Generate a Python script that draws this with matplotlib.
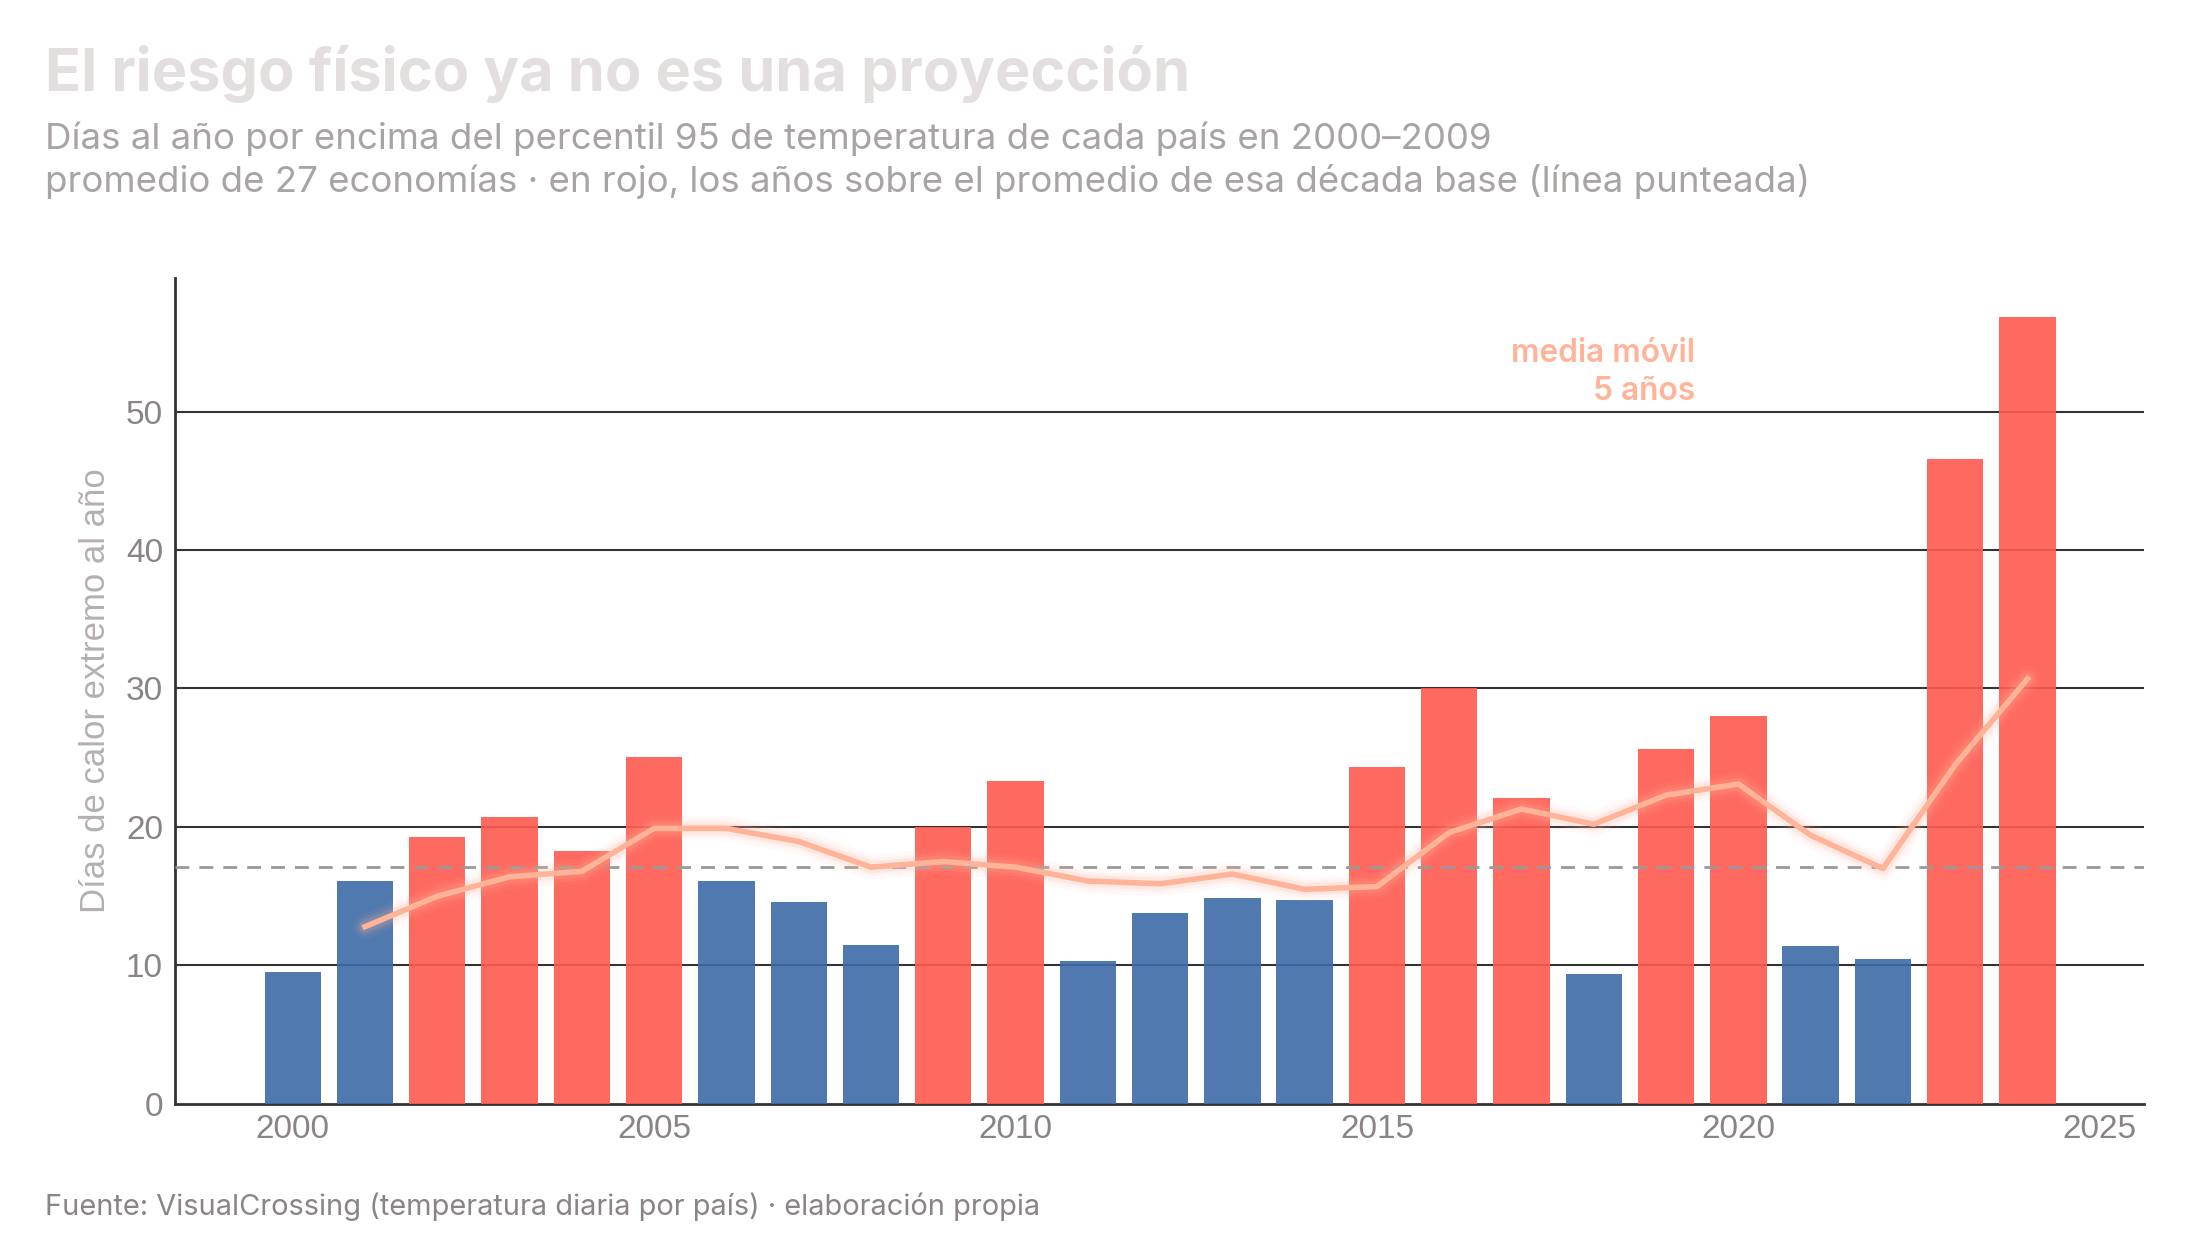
import matplotlib
matplotlib.use("Agg")
import matplotlib.pyplot as plt

years = list(range(2000, 2025))
hot_days = [9.5, 16.1, 19.3, 20.7, 18.3, 25.05, 16.1, 14.6, 11.5, 20.0,
            23.3, 10.3, 13.8, 14.9, 14.7, 24.3, 30.0, 22.1, 9.4, 25.6,
            28.0, 11.4, 10.5, 46.6, 56.8]
rolling_years = list(range(2001, 2025))
rolling_mean = [12.8, 15.0, 16.4, 16.8, 19.9, 19.9, 18.95, 17.1, 17.5, 17.1,
                16.1, 15.9, 16.6, 15.5, 15.7, 19.6, 21.3, 20.2, 22.3, 23.1,
                19.4, 17.0, 24.5, 30.7]
base_mean = 17.1
x_ticks = [2000, 2005, 2010, 2015, 2020, 2025]
y_ticks = [0, 10, 20, 30, 40, 50]

title = "El riesgo físico ya no es una proyección"
subtitle = ("Días al año por encima del percentil 95 de temperatura de cada país en 2000–2009\n"
            "promedio de 27 economías · en rojo, los años sobre el promedio de esa década base (línea punteada)")
source = "Fuente: VisualCrossing (temperatura diaria por país) · elaboración propia"

RED = "#ff5a4f"
BLUE = "#3d6aa8"
LINE = "#ffb499"
GRAY_TXT = "#8a8584"

plt.rcParams["font.family"] = ["Inter", "DejaVu Sans"]

fig = plt.figure(figsize=(11, 6.2), dpi=200)
ax = fig.add_axes([0.0795, 0.1097, 0.895, 0.6661])

colors = [RED if v > base_mean else BLUE for v in hot_days]
ax.bar(years, hot_days, width=0.78, color=colors, alpha=0.9, zorder=3)

for y in y_ticks[1:]:
    ax.axhline(y, color="#333333", lw=0.75, zorder=1)

ax.axhline(base_mean, color="#999999", lw=1.0, dashes=(5, 3.6), zorder=4)

# glow under the rolling mean
for w, a in [(9, 0.06), (6.5, 0.1), (4.5, 0.16)]:
    ax.plot(rolling_years, rolling_mean, color=LINE, lw=w, alpha=a,
            solid_capstyle="round", solid_joinstyle="round", zorder=5)
ax.plot(rolling_years, rolling_mean, color=LINE, lw=2.0, zorder=6,
        solid_joinstyle="round")

ax.text(2019.4, 52.8, "media móvil\n5 años", color=LINE, fontsize=11.4,
        fontweight="semibold", ha="right", va="center", linespacing=1.3)

ax.set_xlim(1998.37, 2025.61)
ax.set_ylim(0, max(hot_days) * 1.05)
ax.set_xticks(x_ticks)
ax.set_yticks(y_ticks)
ax.tick_params(length=0, labelsize=12, labelcolor=GRAY_TXT)
ax.tick_params(axis="y", pad=4.3)
ax.tick_params(axis="x", pad=3.6)
for lab in ax.get_xticklabels() + ax.get_yticklabels():
    lab.set_family(["Liberation Sans", "DejaVu Sans"])
for s in ["top", "right"]:
    ax.spines[s].set_visible(False)
for s in ["left", "bottom"]:
    ax.spines[s].set_color("#333333")
    ax.spines[s].set_linewidth(1.0)
ax.set_ylabel("Días de calor extremo al año", color="#b5b0af", fontsize=12.5,
              labelpad=5, family=["Liberation Sans", "DejaVu Sans"])

fig.text(0.0205, 0.927, title, fontsize=21.4, fontweight="bold", color="#e3dfde",
         va="baseline", ha="left")
fig.text(0.0205, 0.845, subtitle, fontsize=13.2, color="#a8a4a3",
         va="baseline", ha="left", linespacing=1.3)
fig.text(0.0205, 0.02, source, fontsize=10.45, color=GRAY_TXT,
         va="baseline", ha="left")

fig.savefig("out.png", dpi=200, facecolor="white")
